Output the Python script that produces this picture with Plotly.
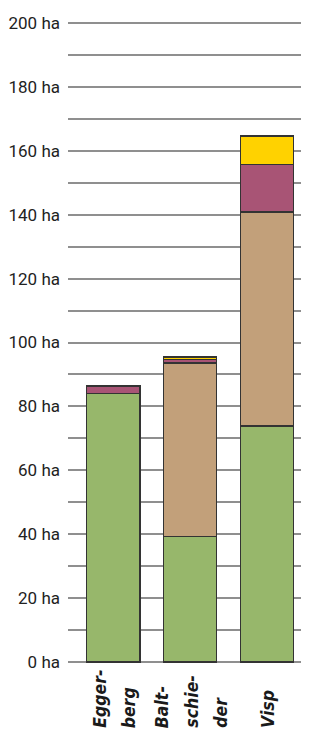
import plotly.graph_objects as go

categories = ["Eggerberg", "Baltschieder", "Visp"]
category_labels = ["Egger-<br>berg", "Balt-<br>schie-<br>der", "Visp"]
green_vals = [84.0, 39.4, 73.9]
tan_vals = [0.0, 54.2, 66.9]
purple_vals = [2.4, 1.0, 15.0]
yellow_vals = [0.0, 0.9, 8.8]
y_tick_vals = [0, 20, 40, 60, 80, 100, 120, 140, 160, 180, 200]
y_tick_text = [f"{v} ha" for v in y_tick_vals]

series = [
    (green_vals, "#97B76B"),
    (tan_vals, "#C2A07A"),
    (purple_vals, "#A85475"),
    (yellow_vals, "#FFD200"),
]

YFONT = "Roboto, Arial, sans-serif"
XFONT = "DejaVu Sans Condensed, Roboto, sans-serif"

fig = go.Figure()
for vals, col in series:
    fig.add_trace(go.Bar(
        x=categories, y=vals, marker=dict(color=col, line=dict(color="#333333", width=1.3)),
        width=0.694, showlegend=False, hoverinfo="skip",
    ))

PITCH = 29
for cat, lab in zip(categories, category_labels):
    lines = lab.split("<br>")
    n = len(lines)
    for i, line in enumerate(lines):
        off = (i - (n - 1) / 2) * PITCH + 1
        fig.add_annotation(
            x=cat, xref="x", y=0, yref="paper", yanchor="bottom", xanchor="center",
            yshift=-66, xshift=off, text=line, textangle=-90, showarrow=False,
            font=dict(family=XFONT, size=17.5, color="#1a1a1a", style="italic", weight="bold"),
        )

fig.update_layout(
    width=309, height=729,
    margin=dict(l=60, r=8, t=13, b=73),
    barmode="stack",
    plot_bgcolor="white", paper_bgcolor="white",
    font=dict(family=YFONT, size=17, color="#222222"),
    xaxis=dict(
        type="category", range=[-0.59, 2.547], showticklabels=False,
        showgrid=False, zeroline=False, showline=False, ticks="", automargin=False,
    ),
    yaxis=dict(
        range=[-0.6, 200.6], tickvals=y_tick_vals, ticktext=y_tick_text,
        showgrid=True, gridcolor="#8f8f8f", gridwidth=1.5,
        minor=dict(dtick=10, showgrid=True, gridcolor="#8f8f8f", gridwidth=1.5),
        zeroline=False, showline=False, ticks="", ticklabelstandoff=7, automargin=False,
        tickfont=dict(family=YFONT, size=17, color="#222222"),
    ),
)

fig.write_html("out.html")
